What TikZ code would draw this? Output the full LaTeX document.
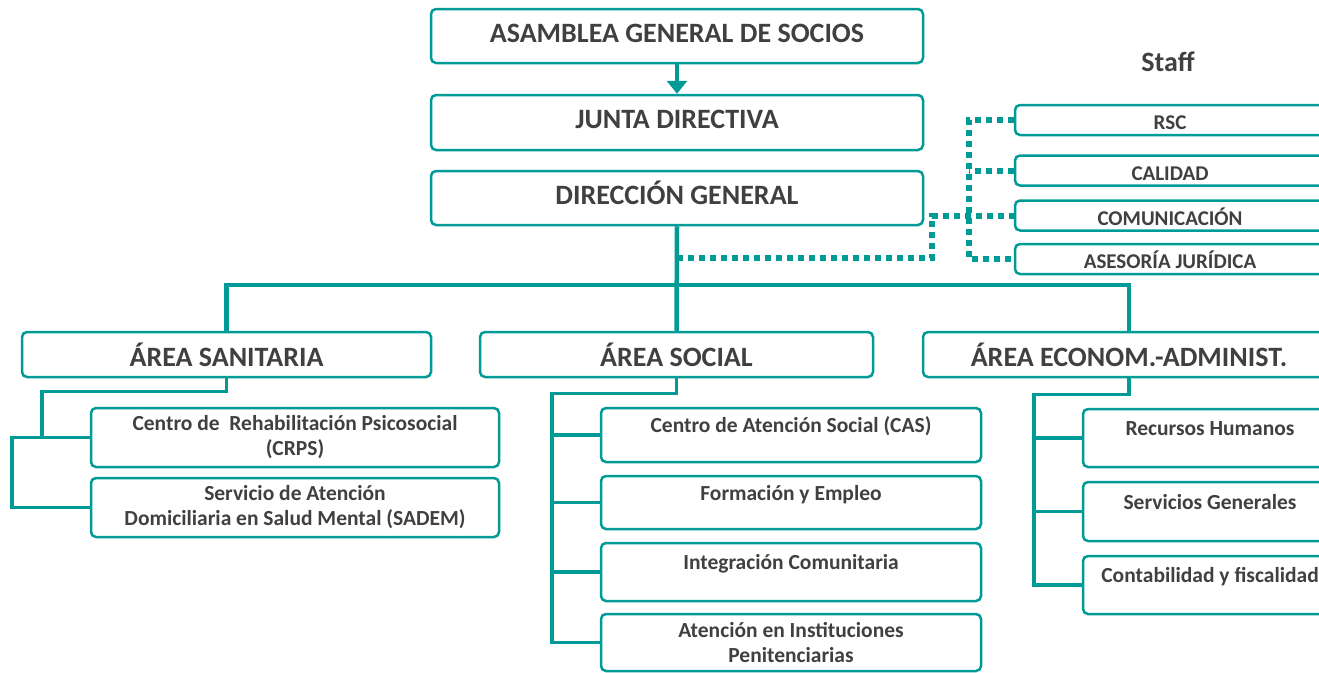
\documentclass[tikz,border=0pt]{standalone}
\usepackage{fontspec}
\setmainfont{Carlito}
\usetikzlibrary{arrows.meta,calc}
\definecolor{orgteal}{RGB}{0,155,150}
\definecolor{orgtext}{RGB}{64,64,64}
\tikzset{
  box/.style={draw=orgteal, line width=2.5pt, rounded corners=5pt, fill=white,
    text=orgtext, inner sep=0pt, align=center},
  topbox/.style={box, minimum width=492pt, minimum height=54pt,
    text height=18pt, text depth=6pt, font=\fontsize{28}{32}\selectfont\bfseries},
  areabox/.style={box, minimum height=45pt, font=\fontsize{28}{32}\selectfont\bfseries},
  staffbox/.style={box, minimum width=310pt, minimum height=30pt,
    text height=19pt, text depth=0pt, font=\fontsize{21}{25}\selectfont\bfseries},
  subbox/.style={box, font=\fontsize{21.5}{25}\selectfont\bfseries},
  upper/.style={text height=15pt, text depth=20pt},
  trunk/.style={draw=orgteal, line width=4.5pt},
  subline/.style={draw=orgteal, line width=3.5pt},
  staffline/.style={draw=orgteal, line width=6pt, dash pattern=on 6pt off 5pt}
}
\begin{document}
\begin{tikzpicture}[x=1pt, y=-1pt]
  \useasboundingbox (0,0) rectangle (1319,672);
  % gobierno
  \node[topbox] (asamblea) at (677,36) {ASAMBLEA GENERAL DE SOCIOS};
  \node[topbox, minimum height=55pt] (junta) at (677,122.5) {JUNTA DIRECTIVA};
  \node[topbox] (direccion) at (677,198) {DIRECCIÓN GENERAL};
  \draw[trunk, -{Triangle[width=20pt,length=13pt]}] (asamblea) -- (junta);

  % staff
  \node[font=\fontsize{28}{32}\selectfont\bfseries, text=orgtext] (staff) at (1168,62) {Staff};
  \node[staffbox] (rsc) at (1170,120) {RSC};
  \node[staffbox] (calidad) at (1170,170.5) {CALIDAD};
  \node[staffbox] (comunic) at (1170,215.5) {COMUNICACIÓN};
  \node[staffbox] (asesoria) at (1170,259) {ASESORÍA JURÍDICA};

  % areas
  \node[areabox, minimum width=409pt] (sanitaria) at (226.5,354.5) {ÁREA SANITARIA};
  \node[areabox, minimum width=393pt] (social) at (676.5,354.5) {ÁREA SOCIAL};
  \node[areabox, minimum width=412pt] (econ) at (1129,354.5) {ÁREA ECONOM.-ADMINIST.};

  \coordinate (bus) at (677,285);
  \coordinate (stafftap) at (677,258);
  \draw[trunk] (direccion.south) -- (social.north);
  \draw[trunk] (sanitaria.north) |- (bus) -| (econ.north);

  % lineas staff
  \draw[staffline] (stafftap) -| ([xshift=-82pt]comunic.west) -- (comunic.west);
  \draw[staffline] (rsc.west) -| ([xshift=-45pt]asesoria.west) -- (asesoria.west);
  \draw[staffline] (calidad.west) -- ++(-45,0);

  % area sanitaria
  \node[subbox, minimum width=408pt, minimum height=59pt] (crps) at (295,437.5)
    {Centro de\ \ Rehabilitación Psicosocial\\(CRPS)};
  \node[subbox, minimum width=408pt, minimum height=59pt] (sadem) at (295,507.5)
    {Servicio de Atención\\Domiciliaria en Salud Mental (SADEM)};
  \draw[subline] (sanitaria.south) -- ++(0,13) -| ([xshift=-48pt]crps.west) -- (crps.west);
  \draw[subline] (crps.west) -- ++(-78,0) |- (sadem.west);

  % area social
  \node[subbox, upper, minimum width=380pt, minimum height=54pt] (cas) at (791,435)
    {Centro de Atención Social (CAS)};
  \node[subbox, upper, minimum width=380pt, minimum height=53pt] (formacion) at (791,502.5)
    {Formación y Empleo};
  \node[subbox, upper, minimum width=380pt, minimum height=58pt] (integracion) at (791,572)
    {Integración Comunitaria};
  \node[subbox, minimum width=380pt, minimum height=57pt] (penit) at (791,642.5)
    {Atención en Instituciones\\Penitenciarias};
  \draw[subline] (social.south) -- ++(0,15) -| ([xshift=-48pt]penit.west) -- (penit.west);
  \foreach \n in {cas,formacion,integracion}
    \draw[subline] (\n.west) -- ++(-48,0);

  % area economica
  \node[subbox, upper, minimum width=254pt, minimum height=58pt] (rrhh) at (1210,438)
    {Recursos Humanos};
  \node[subbox, upper, minimum width=254pt, minimum height=59pt] (servicios) at (1210,511.5)
    {Servicios Generales};
  \node[subbox, upper, minimum width=254pt, minimum height=58pt] (contab) at (1210,585)
    {Contabilidad y fiscalidad};
  \draw[subline] (econ.south) -- ++(0,16) -| ([xshift=-48pt]contab.west) -- (contab.west);
  \foreach \n in {rrhh,servicios}
    \draw[subline] (\n.west) -- ++(-48,0);
\end{tikzpicture}
\end{document}
